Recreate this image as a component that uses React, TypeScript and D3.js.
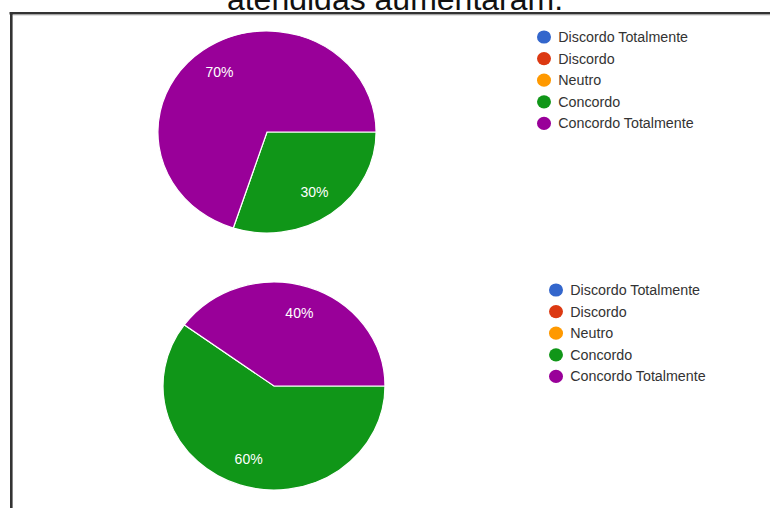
import React from "react";
import * as d3 from "d3";

const categories = ["Discordo Totalmente", "Discordo", "Neutro", "Concordo", "Concordo Totalmente"];
const colors = ["#3366cc", "#dc3912", "#ff9900", "#109618", "#990099"];
const chart1Values = [0, 0, 0, 30, 70];
const chart2Values = [0, 0, 0, 60, 40];
const titleText = "atendidas aumentaram.";

type PieCfg = { values: number[]; cx: number; cy: number; r: number; sx: number; lx: number; ly: number };

const pies: PieCfg[] = [
  { values: chart1Values, cx: 267, cy: 132, r: 101, sx: 1.08, lx: 544, ly: 37 },
  { values: chart2Values, cx: 274, cy: 386, r: 104, sx: 1.067, lx: 556, ly: 290 },
];

const font = "'Liberation Sans', Arial, sans-serif";

function Pie({ cfg }: { cfg: PieCfg }) {
  const total = d3.sum(cfg.values);
  const pie = d3
    .pie<number>()
    .sort(null)
    .value((d) => d)
    .startAngle(Math.PI / 2)
    .endAngle(Math.PI / 2 + 2 * Math.PI);
  const arcs = pie(cfg.values);
  const arc = d3.arc<d3.PieArcDatum<number>>().innerRadius(0).outerRadius(cfg.r);
  const labelArc = d3
    .arc<d3.PieArcDatum<number>>()
    .innerRadius(cfg.r * 0.74)
    .outerRadius(cfg.r * 0.74);
  const step = 21.6;
  return (
    <g>
      <g transform={`translate(${cfg.cx},${cfg.cy}) scale(${cfg.sx},1)`}>
        {arcs
          .filter((a) => a.value > 0)
          .map((a) => (
            <path
              key={a.index}
              d={arc(a) || ""}
              fill={colors[a.index]}
              stroke="#ffffff"
              strokeWidth={1.2}
              vectorEffect="non-scaling-stroke"
            />
          ))}
      </g>
      {arcs
        .filter((a) => a.value > 0)
        .map((a) => {
          const [x, y] = labelArc.centroid(a);
          return (
            <text
              key={"l" + a.index}
              x={cfg.cx + x * cfg.sx}
              y={cfg.cy + y}
              fill="#ffffff"
              fontFamily={font}
              fontSize={14}
              textAnchor="middle"
              dominantBaseline="central"
            >
              {`${Math.round((a.value / total) * 100)}%`}
            </text>
          );
        })}
      {categories.map((c, i) => (
        <g key={c} transform={`translate(${cfg.lx},${cfg.ly + i * step})`}>
          <ellipse cx={0} cy={0} rx={7} ry={6.6} fill={colors[i]} />
          <text
            x={14}
            y={0}
            fill="#333333"
            fontFamily={font}
            fontSize={14}
            dominantBaseline="central"
            transform="scale(1.02,1)"
          >
            {c}
          </text>
        </g>
      ))}
    </g>
  );
}

export default function App() {
  return (
    <div style={{ position: "absolute", left: 0, top: 0 }}>
      <svg width={770} height={508} style={{ display: "block", background: "#ffffff" }}>
        <rect x={0} y={0} width={770} height={508} fill="#ffffff" />
        <text
          x={395}
          y={10}
          textAnchor="middle"
          fontFamily={font}
          fontSize={32}
          fill="#111111"
        >
          {titleText}
        </text>
        <line x1={9.5} x2={770} y1={13.3} y2={13.3} stroke="#333333" strokeWidth={2.6} />
        <line x1={11.3} x2={11.3} y1={12} y2={508} stroke="#333333" strokeWidth={2.6} />
        <line x1={13} x2={770} y1={15.3} y2={15.3} stroke="#dddddd" strokeWidth={1} />
        {pies.map((p, i) => (
          <Pie key={i} cfg={p} />
        ))}
      </svg>
    </div>
  );
}
